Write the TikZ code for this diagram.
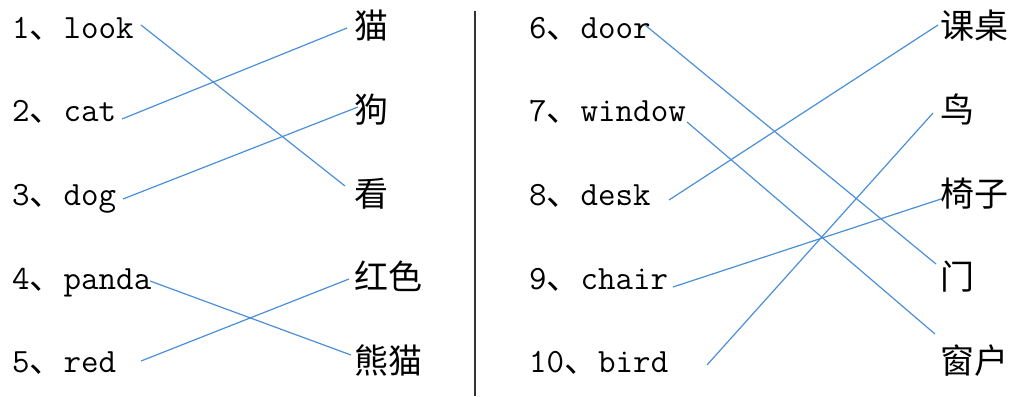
\documentclass[tikz,border=0pt]{standalone}
\usepackage{fontspec}
\newfontfamily\cjk{Noto Sans CJK SC}
\newfontfamily\en{Latin Modern Mono}
\newcommand\myentry[2]{{\en #1}{\cjk 、}{\en #2}}
\definecolor{lineblue}{HTML}{4A8FD8}
\begin{document}
\begin{tikzpicture}[x=1pt,y=-1pt,
  en/.style={anchor=base west,inner sep=0pt,font=\fontsize{34}{34}\selectfont},
  zh/.style={anchor=base west,inner sep=0pt,font=\fontsize{34}{34}\selectfont\cjk},
  link/.style={draw=lineblue,line width=1.2pt},
  divider/.style={draw=black!80,line width=2pt}]
\useasboundingbox (0,0) rectangle (1019,396);
% left column
\node[en] (e1) at (12,38) {\myentry{1}{look}};
\node[en] (e2) at (12,121) {\myentry{2}{cat}};
\node[en] (e3) at (12,205) {\myentry{3}{dog}};
\node[en] (e4) at (12,289) {\myentry{4}{panda}};
\node[en] (e5) at (12,372) {\myentry{5}{red}};
\node[zh] (c1) at (354,39) {猫};
\node[zh] (c2) at (354,122) {狗};
\node[zh] (c3) at (354,206) {看};
\node[zh] (c4) at (354,289) {红色};
\node[zh] (c5) at (354,373) {熊猫};
% right column
\node[en] (e6) at (529,38) {\myentry{6}{door}};
\node[en] (e7) at (529,121) {\myentry{7}{window}};
\node[en] (e8) at (529,205) {\myentry{8}{desk}};
\node[en] (e9) at (529,289) {\myentry{9}{chair}};
\node[en] (e10) at (529,372) {\myentry{10}{bird}};
\node[zh] (c6) at (940,39) {课桌};
\node[zh] (c7) at (940,122) {鸟};
\node[zh] (c8) at (940,206) {椅子};
\node[zh] (c9) at (940,289) {门};
\node[zh] (c10) at (940,373) {窗户};
% connector end points
\coordinate (s1) at (141,25);  \coordinate (t3) at (345,186);
\coordinate (s2) at (122,119); \coordinate (t1) at (347,28);
\coordinate (s3) at (123,199); \coordinate (t2) at (358,107);
\coordinate (s4) at (150,281); \coordinate (t5) at (351,355);
\coordinate (s5) at (141,361); \coordinate (t4) at (349,279);
\coordinate (s6) at (645,25);  \coordinate (t9) at (936,264);
\coordinate (s7) at (687,122); \coordinate (t10) at (935,334);
\coordinate (s8) at (669,200); \coordinate (t6) at (938,25);
\coordinate (s9) at (673,287); \coordinate (t8) at (941,199);
\coordinate (s10) at (707,365); \coordinate (t7) at (933,113);
\draw[link] (s1) -- (t3);
\draw[link] (s2) -- (t1);
\draw[link] (s3) -- (t2);
\draw[link] (s4) -- (t5);
\draw[link] (s5) -- (t4);
\draw[link] (s6) -- (t9);
\draw[link] (s7) -- (t10);
\draw[link] (s8) -- (t6);
\draw[link] (s9) -- (t8);
\draw[link] (s10) -- (t7);
% divider
\coordinate (dtop) at (475,11);
\coordinate (dbot) at (475,396);
\draw[divider] (dtop) -- (dbot);
\end{tikzpicture}
\end{document}
